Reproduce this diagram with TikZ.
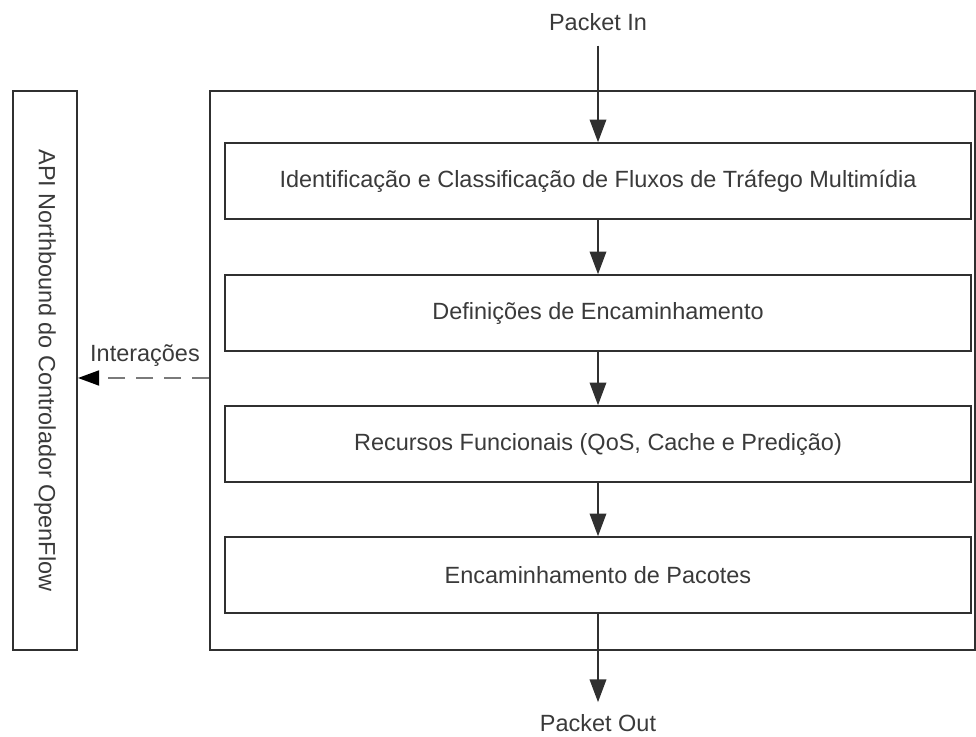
\documentclass[tikz,border=0pt]{standalone}
\usepackage{fontspec}
\setmainfont{Liberation Sans}
\usetikzlibrary{arrows.meta,fit}
\definecolor{linec}{HTML}{303030}
\definecolor{textc}{HTML}{3A3A3A}
\definecolor{dashc}{HTML}{7A7A7A}
\tikzset{
  box/.style={draw=linec, line width=1.2pt, inner sep=0pt, text=textc},
  lbl/.style={text=textc, font=\fontsize{17.6}{21}\selectfont},
  arr/.style={draw=linec, line width=1pt, -{Triangle[length=17pt,width=12.5pt]}},
  dasharr/.style={draw=dashc, line width=2.2pt, dash pattern=on 13pt off 8pt,
    -{Triangle[length=16pt,width=11pt,color=black]}},
}
\begin{document}
\begin{tikzpicture}[x=0.75pt,y=-0.75pt]
\useasboundingbox (0,0) rectangle (976,737);
% left API box
\node[box, fit={(13,91)(77,650)}] (api) {};
\node[lbl, rotate=-90] (apitxt) at (api.center) {API Northbound do Controlador OpenFlow};
% outer box
\node[box, fit={(210,91)(975,650)}] (outer) {};
% inner boxes
\node[box, fit={(225,143)(971,219)}] (b1) {};
\node[lbl] (t1) at (b1.center) {Identificação e Classificação de Fluxos de Tráfego Multimídia};
\node[box, fit={(225,275)(971,351)}] (b2) {};
\node[lbl] (t2) at (b2.center) {Definições de Encaminhamento};
\node[box, fit={(225,406)(971,482)}] (b3) {};
\node[lbl] (t3) at (b3.center) {Recursos Funcionais (QoS, Cache e Predição)};
\node[box, fit={(225,537)(971,613)}] (b4) {};
\node[lbl] (t4) at (b4.center) {Encaminhamento de Pacotes};
% packet in/out
\node[lbl, inner ysep=11pt] (pin) at (598,22) {Packet In};
\node[lbl, inner ysep=1pt] (pout) at (598,723) {Packet Out};
\draw[arr] (pin) -- (b1);
\draw[arr] (b1) -- (b2);
\draw[arr] (b2) -- (b3);
\draw[arr] (b3) -- (b4);
\draw[arr, shorten >=8pt] (b4.south) -- (pout);
% interactions
\coordinate (dy) at (0,378);
\draw[dasharr] (outer.west |- dy) -- (api.east |- dy);
\node[lbl] (inter) at (145,356) {Interações};
\end{tikzpicture}
\end{document}
